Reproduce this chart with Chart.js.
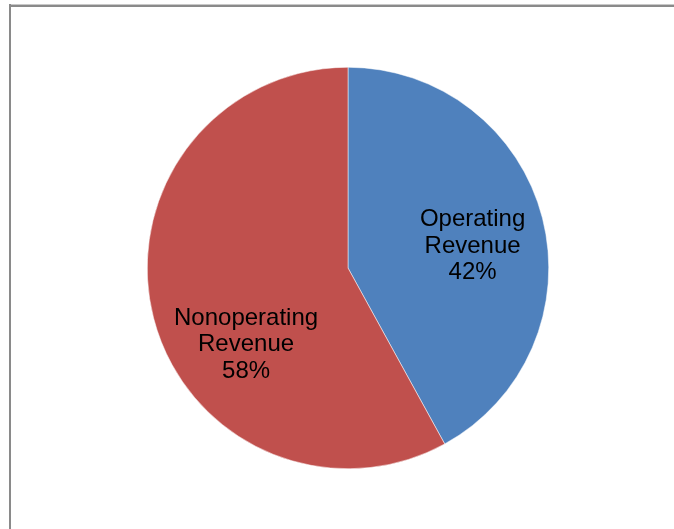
<!DOCTYPE html>
<html>
<head>
<meta charset="utf-8">
<script src="https://cdn.jsdelivr.net/npm/chart.js@4"></script>
<style>
html,body{margin:0;padding:0;background:#fff;}
#wrap{position:relative;width:674px;height:529px;}
canvas{display:block;}
</style>
</head>
<body>
<div id="wrap"><canvas id="c" width="674" height="529"></canvas></div>
<script>
const categories = ["Operating Revenue", "Nonoperating Revenue"];
const labelLines = [["Operating", "Revenue"], ["Nonoperating", "Revenue"]];
const values = [42, 58];
const colors = ["#4F81BD", "#C0504D"];

// label anchor: fraction of radius and angle shift (degrees) relative to slice middle
const labelPlacement = [{r: 0.63, shift: 4.5}, {r: 0.635, shift: -22.5}];

const frame = {
  id: 'frame',
  beforeDraw(chart) {
    const ctx = chart.ctx;
    ctx.save();
    ctx.fillStyle = '#fff';
    ctx.fillRect(0, 0, chart.width, chart.height);
    ctx.fillStyle = '#c8c8c8';
    ctx.fillRect(9, 4, chart.width - 9, 1);
    ctx.fillStyle = '#8a8a8a';
    ctx.fillRect(9, 5, chart.width - 9, 2);
    ctx.fillRect(9, 4, 2, chart.height - 4);
    ctx.restore();
  }
};

const pieLabels = {
  id: 'pieLabels',
  afterDatasetsDraw(chart) {
    const ctx = chart.ctx;
    const meta = chart.getDatasetMeta(0);
    const total = values.reduce((a, b) => a + b, 0);
    ctx.save();
    ctx.font = '24px "Liberation Sans", Arial, sans-serif';
    ctx.fillStyle = '#000';
    ctx.textAlign = 'center';
    ctx.textBaseline = 'middle';
    meta.data.forEach((arc, i) => {
      const p = arc.getProps(['x', 'y', 'startAngle', 'endAngle', 'outerRadius'], true);
      const mid = (p.startAngle + p.endAngle) / 2 + labelPlacement[i].shift * Math.PI / 180;
      const rr = p.outerRadius * labelPlacement[i].r;
      const cx = p.x + Math.cos(mid) * rr;
      const cy = p.y + Math.sin(mid) * rr;
      const lines = labelLines[i].concat([Math.round(values[i] / total * 100) + '%']);
      const lh = 26.5;
      lines.forEach((t, k) => {
        ctx.fillText(t, cx, cy + (k - (lines.length - 1) / 2) * lh);
      });
    });
    ctx.restore();
  }
};

new Chart(document.getElementById('c'), {
  type: 'pie',
  data: {
    labels: categories,
    datasets: [{
      data: values,
      backgroundColor: colors,
      borderColor: '#ffffff',
      borderWidth: 0.5
    }]
  },
  options: {
    responsive: false,
    animation: false,
    layout: {padding: {left: 22, right: 0, top: 67, bottom: 60}},
    plugins: {
      legend: {display: false},
      tooltip: {enabled: false}
    }
  },
  plugins: [frame, pieLabels]
});
</script>
</body>
</html>
